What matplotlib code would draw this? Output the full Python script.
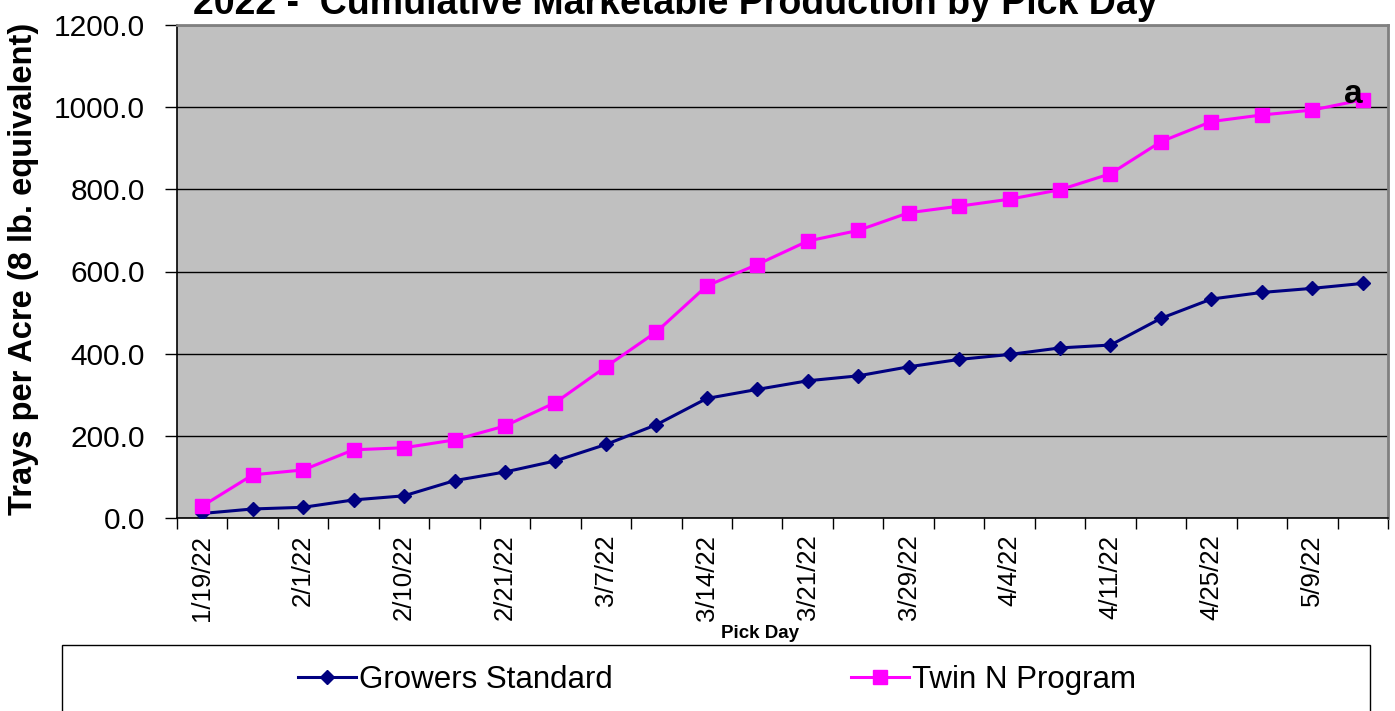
import numpy as np
import matplotlib
matplotlib.use("Agg")
import matplotlib.pyplot as plt
from matplotlib.patches import Rectangle
from matplotlib.lines import Line2D

plt.rcParams['font.family'] = ['Liberation Sans', 'DejaVu Sans']

# 24 pick days, Excel shows every other label
pick_labels = ['1/19/22', '', '2/1/22', '', '2/10/22', '', '2/21/22', '', '3/7/22', '',
               '3/14/22', '', '3/21/22', '', '3/29/22', '', '4/4/22', '', '4/11/22', '',
               '4/25/22', '', '5/9/22', '']
growers_standard = [11, 22, 26, 44, 54, 91, 112, 139, 179, 227, 291, 313,
                    334, 346, 368, 386, 398, 414, 421, 486, 533, 549, 559, 571]
twin_n = [29, 105, 117, 166, 171, 190, 224, 281, 368, 453, 565, 617,
          674, 700, 743, 759, 776, 799, 838, 916, 965, 981, 993, 1018]
y_ticks = [0, 200, 400, 600, 800, 1000, 1200]

x = np.arange(len(pick_labels))

fig = plt.figure(figsize=(13.95, 7.11), dpi=100)
ax = fig.add_axes([177/1395, 1-518/711, (1388-177)/1395, (518-25)/711])
ax.set_facecolor('#C0C0C0')

ax.plot(x, growers_standard, color='#000080', lw=2.2, marker='D', ms=7, label='Growers Standard', zorder=3)
ax.plot(x, twin_n, color='#FF00FF', lw=2.2, marker='s', ms=10, label='Twin N Program', zorder=4)

ax.set_xlim(-0.5, len(pick_labels) - 0.5)
ax.set_ylim(0, 1200)
ax.set_yticks(y_ticks)
ax.set_yticklabels(['%.1f' % v for v in y_ticks], fontsize=21.5)
ax.yaxis.grid(True, color='black', lw=1.0)
ax.set_axisbelow(True)
ax.tick_params(axis='y', length=9, width=1, pad=14, direction='out')

# labels at category centres, tick marks on category boundaries
ax.set_xticks(x)
ax.set_xticklabels(pick_labels, rotation=90, fontsize=18.5, va='top', ha='center')
ax.tick_params(axis='x', which='major', length=0, pad=12)
ax.set_xticks(np.arange(-0.5, len(pick_labels)), minor=True)
ax.tick_params(axis='x', which='minor', length=8, width=1, direction='out')

for s in ['top', 'right']:
    ax.spines[s].set_color('#808080')
    ax.spines[s].set_linewidth(2)
for s in ['left', 'bottom']:
    ax.spines[s].set_color('black')
    ax.spines[s].set_linewidth(1.2)

ax.annotate('a', xy=(x[-1], twin_n[-1]), xytext=(-6.5, -2), textcoords='offset points',
            fontsize=24, fontweight='bold', ha='center', va='baseline', zorder=5)

fig.text(675/1395, 1-14/711, '2022 -  Cumulative Marketable Production by Pick Day',
         fontsize=27, fontweight='bold', ha='center', va='baseline')
fig.text(24/1395, 1-269/711, 'Trays per Acre (8 lb. equivalent)', rotation=90,
         fontsize=23.5, fontweight='bold', ha='center', va='center')
fig.text(760/1395, 1-633/711, 'Pick Day', fontsize=13.5, fontweight='bold',
         ha='center', va='center')

box = Rectangle((62/1395, -0.02), (1370-62)/1395, 1-645/711+0.02, transform=fig.transFigure,
                facecolor='white', edgecolor='black', lw=1)
fig.patches.append(box)

handles = [Line2D([], [], color='#000080', lw=2.2, marker='D', ms=7),
           Line2D([], [], color='#FF00FF', lw=2.2, marker='s', ms=10)]
fig.legend(handles, ['Growers Standard', 'Twin N Program'], loc='center',
           bbox_to_anchor=(717/1395, 1-680/711), ncol=2, frameon=False, fontsize=22.5,
           handlelength=1.86, handletextpad=0.1, columnspacing=7.6)

fig.savefig('out.png', dpi=100)
